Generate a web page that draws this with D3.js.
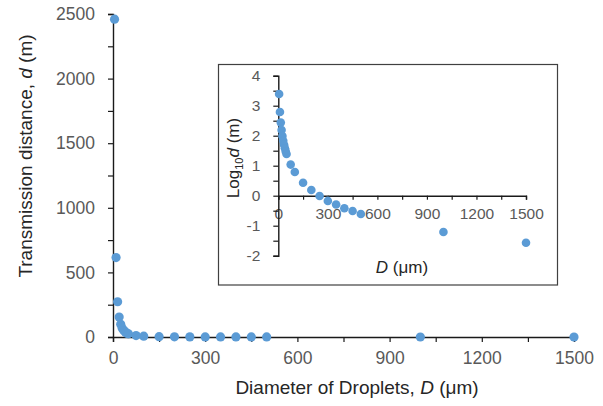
<!DOCTYPE html>
<html>
<head>
<meta charset="utf-8">
<script src="https://cdn.jsdelivr.net/npm/d3@7"></script>
<style>
  html, body { margin: 0; padding: 0; background: #fff; }
  svg { display: block; font-family: "Liberation Sans", Arial, sans-serif; }
</style>
</head>
<body>
<svg id="chart" width="603" height="406"></svg>
<script>
// Droplet diameter D (μm) and transmission distance d (m)
const diameters = [5, 10, 15, 20, 25, 30, 35, 40, 45, 50, 75, 100, 150, 200, 250, 300, 350, 400, 450, 500, 1000, 1500];
const distances = [2460, 615, 273, 154, 98, 68, 50, 38, 30, 24.6, 10.9, 6.2, 2.7, 1.54, 0.98, 0.67, 0.51, 0.38, 0.31, 0.245, 0.062, 0.027];

// Axis ticks
const mainXTicks = [0, 150, 300, 450, 600, 750, 900, 1050, 1200, 1350, 1500];
const mainXLabels = [0, 300, 600, 900, 1200, 1500];
const mainYTicks = [0, 250, 500, 750, 1000, 1250, 1500, 1750, 2000, 2250, 2500];
const mainYLabels = [0, 500, 1000, 1500, 2000, 2500];
const insetXTicks = [0, 150, 300, 450, 600, 750, 900, 1050, 1200, 1350, 1500];
const insetXLabels = [0, 300, 600, 900, 1200, 1500];
const insetYTicks = [-2, -1.5, -1, -0.5, 0, 0.5, 1, 1.5, 2, 2.5, 3, 3.5, 4];
const insetYLabels = [-2, -1, 0, 1, 2, 3, 4];

const data = diameters.map((D, i) => ({ D, d: distances[i] }));

const BLUE = "#5b9bd5";
const AXIS = "#1a1a1a";
const LABEL = "#595959";
const TITLE = "#262626";

const svg = d3.select("#chart");

function styleAxis(g, fontSize) {
  g.select(".domain").attr("stroke", AXIS).attr("stroke-width", 1.4);
  g.selectAll(".tick line").attr("stroke", AXIS).attr("stroke-width", 1.2);
  g.selectAll(".tick text").attr("fill", LABEL).style("font-size", fontSize + "px");
}

// ---------- main chart ----------
const x = d3.scaleLinear().domain([0, 1500]).range([113, 574]);
const y = d3.scaleLinear().domain([0, 2500]).range([337, 14]);

const gx = svg.append("g").attr("transform", `translate(0,${y(0)})`)
  .call(d3.axisBottom(x).tickValues(mainXTicks).tickSizeOuter(0).tickSize(5).tickPadding(10)
    .tickFormat(v => mainXLabels.includes(v) ? v : ""));
styleAxis(gx, 17.5);

const gy = svg.append("g").attr("transform", `translate(${x(0)},0)`)
  .call(d3.axisLeft(y).tickValues(mainYTicks).tickSizeOuter(0).tickSize(5).tickPadding(13)
    .tickFormat(v => mainYLabels.includes(v) ? v : ""));
styleAxis(gy, 17.5);

svg.append("g").selectAll("circle").data(data).join("circle")
  .attr("cx", p => x(p.D)).attr("cy", p => y(p.d)).attr("r", 4.6).attr("fill", BLUE);

const xTitle = svg.append("text").attr("x", 357).attr("y", 394).attr("text-anchor", "middle")
  .attr("fill", TITLE).style("font-size", "19px");
xTitle.append("tspan").text("Diameter of Droplets, ");
xTitle.append("tspan").attr("font-style", "italic").text("D");
xTitle.append("tspan").text(" (μm)");

const yTitle = svg.append("text").attr("transform", "translate(32,156) rotate(-90)")
  .attr("text-anchor", "middle").attr("fill", TITLE).style("font-size", "19px");
yTitle.append("tspan").text("Transmission distance, ");
yTitle.append("tspan").attr("font-style", "italic").text("d");
yTitle.append("tspan").text(" (m)");

// ---------- inset: log10 of distance ----------
svg.append("rect").attr("x", 218.5).attr("y", 64.5).attr("width", 339).attr("height", 220.5)
  .attr("fill", "#fff").attr("stroke", "#404040").attr("stroke-width", 1.2);

const ix = d3.scaleLinear().domain([0, 1500]).range([278.3, 526]);
const iy = d3.scaleLinear().domain([-2, 4]).range([255.7, 75.7]);

const igx = svg.append("g").attr("transform", `translate(0,${iy(0)})`)
  .call(d3.axisBottom(ix).tickValues(insetXTicks).tickSizeOuter(0).tickSize(4).tickPadding(8)
    .tickFormat(v => insetXLabels.includes(v) ? v : ""));
styleAxis(igx, 15.5);

const igy = svg.append("g").attr("transform", `translate(${ix(0)},0)`)
  .call(d3.axisLeft(iy).tickValues(insetYTicks).tickSizeOuter(0).tickSize(5).tickPadding(13)
    .tickFormat(v => insetYLabels.includes(v) ? v : ""));
styleAxis(igy, 15.5);

svg.append("g").selectAll("circle").data(data).join("circle")
  .attr("cx", p => ix(p.D)).attr("cy", p => iy(Math.log10(p.d))).attr("r", 4.3).attr("fill", BLUE);

const ixTitle = svg.append("text").attr("x", 402).attr("y", 273).attr("text-anchor", "middle")
  .attr("fill", TITLE).style("font-size", "17px");
ixTitle.append("tspan").attr("font-style", "italic").text("D");
ixTitle.append("tspan").text(" (μm)");

const iyTitle = svg.append("text").attr("transform", "translate(239,158) rotate(-90)")
  .attr("text-anchor", "middle").attr("fill", TITLE).style("font-size", "17px");
iyTitle.append("tspan").text("Log");
iyTitle.append("tspan").attr("dy", 4).style("font-size", "11px").text("10");
iyTitle.append("tspan").attr("dy", -4).attr("font-style", "italic").text("d");
iyTitle.append("tspan").text(" (m)");
</script>
</body>
</html>
